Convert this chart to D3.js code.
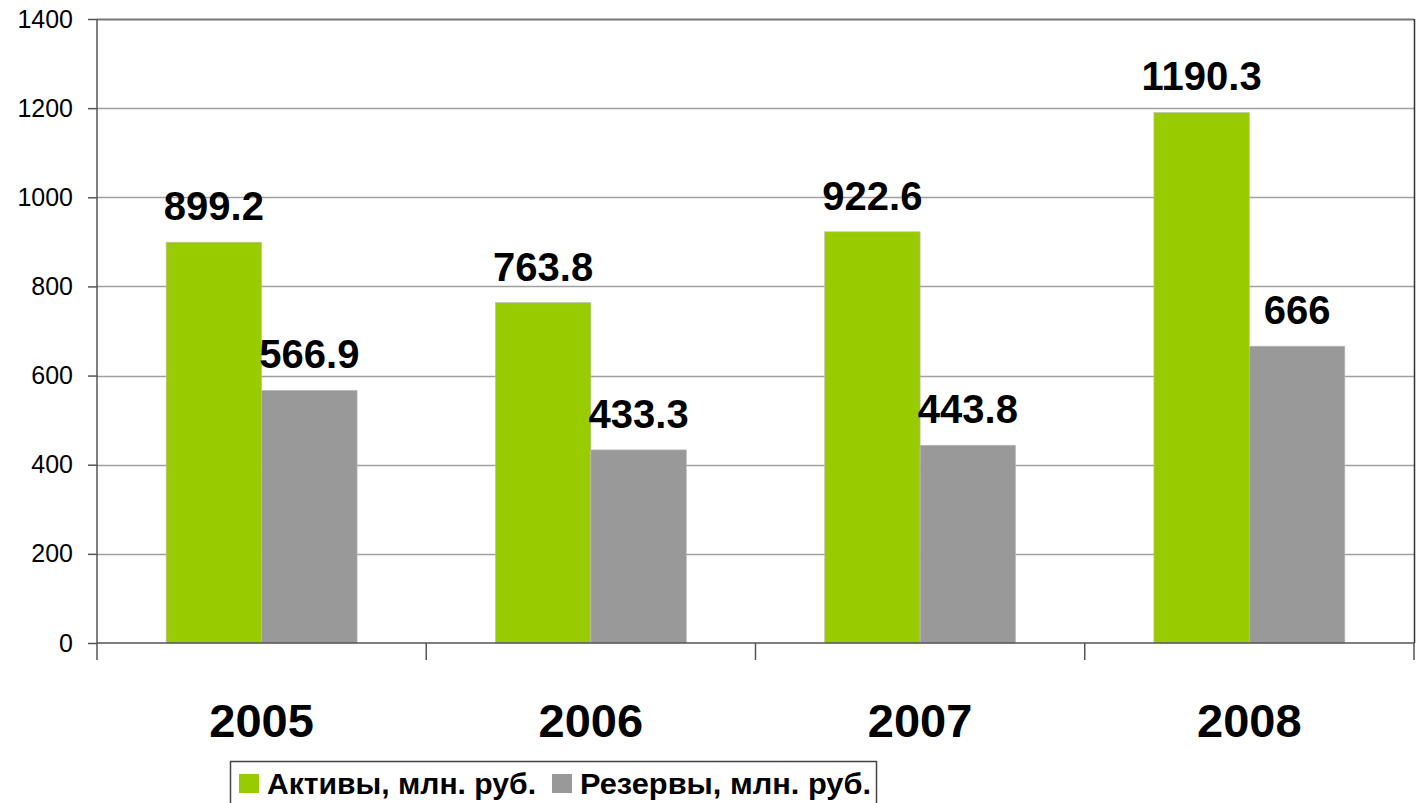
<!DOCTYPE html>
<html>
<head>
<meta charset="utf-8">
<script src="https://cdn.jsdelivr.net/npm/d3@7"></script>
<style>
  body { margin: 0; background: #fff; }
  svg { display: block; font-family: "Liberation Sans", Arial, sans-serif; }
</style>
</head>
<body>
<div id="chart"></div>
<script>
// Chart data
const years = ["2005", "2006", "2007", "2008"];
const seriesNames = ["Активы, млн. руб.", "Резервы, млн. руб."];
const assets = [899.2, 763.8, 922.6, 1190.3];
const reserves = [566.9, 433.3, 443.8, 666];
const yTicks = [0, 200, 400, 600, 800, 1000, 1200, 1400];
const colors = ["#99cc00", "#999999"];

const W = 1416, H = 803;
const margin = { top: 19, right: 2, bottom: 160, left: 97 };

const svg = d3.select("#chart").append("svg")
    .attr("width", W)
    .attr("height", H);

// Scales
const x0 = d3.scaleBand()
    .domain(years)
    .range([margin.left, W - margin.right])
    .padding(0);

const bw = x0.bandwidth();
const x1 = d3.scaleBand()
    .domain(seriesNames)
    .range([bw * 0.21, bw * 0.79])
    .padding(0);

const y = d3.scaleLinear()
    .domain([0, 1400])
    .range([H - margin.bottom, margin.top]);

// Gridlines
svg.append("g")
    .selectAll("line")
    .data(yTicks.filter(d => d > 0))
    .join("line")
    .attr("x1", margin.left)
    .attr("x2", W - margin.right)
    .attr("y1", d => Math.round(y(d)) + 0.5)
    .attr("y2", d => Math.round(y(d)) + 0.5)
    .attr("stroke", d => d === 1400 ? "#777" : "#a0a0a0")
    .attr("stroke-width", d => d === 1400 ? 2 : 1.5);

// Right border of plot area
svg.append("line")
    .attr("x1", W - margin.right + 0.5)
    .attr("x2", W - margin.right + 0.5)
    .attr("y1", y(1400))
    .attr("y2", y(0))
    .attr("stroke", "#333")
    .attr("stroke-width", 1.5);

// Bars
const rows = years.map((yr, i) => ({ year: yr, values: [assets[i], reserves[i]] }));

const groups = svg.append("g")
    .selectAll("g")
    .data(rows)
    .join("g")
    .attr("transform", d => `translate(${x0(d.year)},0)`);

groups.selectAll("rect")
    .data(d => d.values.map((v, j) => ({ name: seriesNames[j], value: v, color: colors[j] })))
    .join("rect")
    .attr("x", d => x1(d.name))
    .attr("y", d => y(d.value))
    .attr("width", x1.bandwidth())
    .attr("height", d => y(0) - y(d.value))
    .attr("fill", d => d.color)
    .attr("stroke", "#bdbdbd")
    .attr("stroke-width", 0.6);

// Value labels
groups.selectAll("text")
    .data(d => d.values.map((v, j) => ({ name: seriesNames[j], value: v })))
    .join("text")
    .attr("x", d => x1(d.name) + x1.bandwidth() / 2)
    .attr("y", d => y(d.value) - 22)
    .attr("text-anchor", "middle")
    .attr("font-size", 40)
    .attr("font-weight", "bold")
    .attr("fill", "#000")
    .text(d => d.value);

// Y axis
const yAxis = svg.append("g")
    .attr("transform", `translate(${margin.left},0)`)
    .call(d3.axisLeft(y).tickValues(yTicks).tickSize(9).tickPadding(15).tickFormat(d3.format("d")));
yAxis.select(".domain").attr("stroke", "#555").attr("stroke-width", 1.5).attr("d", `M0,${y(1400)}V${y(0)}`);
yAxis.selectAll(".tick line").attr("stroke", "#555").attr("stroke-width", 1.5);
yAxis.selectAll(".tick text")
    .attr("font-size", 25)
    .attr("font-family", "Liberation Sans, Arial, sans-serif")
    .attr("fill", "#000");

// X axis
const xAxisY = y(0);
svg.append("line")
    .attr("x1", margin.left)
    .attr("x2", W - margin.right)
    .attr("y1", xAxisY)
    .attr("y2", xAxisY)
    .attr("stroke", "#555")
    .attr("stroke-width", 1.5);

svg.append("g")
    .selectAll("line")
    .data(years.map(yr => x0(yr)).concat([x0(years[years.length - 1]) + bw]))
    .join("line")
    .attr("x1", d => d)
    .attr("x2", d => d)
    .attr("y1", xAxisY)
    .attr("y2", xAxisY + 17)
    .attr("stroke", "#555")
    .attr("stroke-width", 1.5);

svg.append("g")
    .selectAll("text")
    .data(years)
    .join("text")
    .attr("x", d => x0(d) + bw / 2)
    .attr("y", 737)
    .attr("text-anchor", "middle")
    .attr("font-size", 47)
    .attr("font-weight", "bold")
    .text(d => d);

// Legend
const legend = svg.append("g");
legend.append("rect")
    .attr("x", 230.5)
    .attr("y", 761.5)
    .attr("width", 646)
    .attr("height", 60)
    .attr("fill", "#fff")
    .attr("stroke", "#444")
    .attr("stroke-width", 1.5);

const legendX = [239, 552];
const legendLen = [269, 291];
seriesNames.forEach((name, i) => {
    legend.append("rect")
        .attr("x", legendX[i])
        .attr("y", 774)
        .attr("width", 20)
        .attr("height", 19)
        .attr("fill", colors[i]);
    legend.append("text")
        .attr("x", legendX[i] + 28)
        .attr("y", 794)
        .attr("font-size", 29)
        .attr("font-weight", "bold")
        .attr("textLength", legendLen[i])
        .attr("lengthAdjust", "spacingAndGlyphs")
        .text(name);
});
</script>
</body>
</html>
